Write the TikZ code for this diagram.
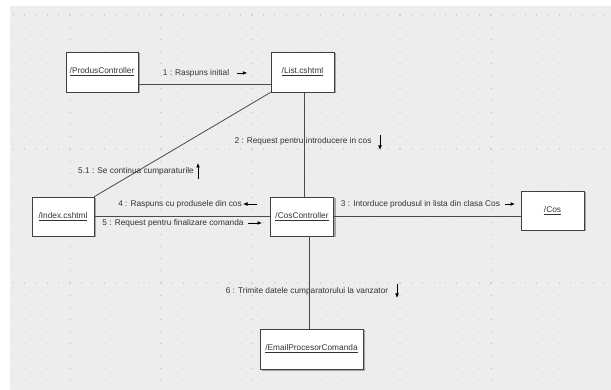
\documentclass[tikz,border=0pt]{standalone}
\usepackage{fontspec}
\setmainfont{Liberation Sans}
\usetikzlibrary{arrows.meta,calc}
\definecolor{bggrey}{HTML}{EDEDED}
\definecolor{dotgrey}{HTML}{D2D2D2}
\definecolor{linegrey}{HTML}{4A4A4A}
\definecolor{txtgrey}{HTML}{333333}
\begin{document}
\begin{tikzpicture}[x=1pt,y=-1pt,
  objbox/.style={draw=black!75,fill=white,line width=0.7pt,minimum width=#1,inner sep=0pt,
    font=\fontsize{8.3}{10}\selectfont,text=txtgrey},
  objbox/.default=63pt,
  conn/.style={draw=linegrey,line width=0.8pt},
  msg/.style={font=\fontsize{8.3}{10}\selectfont,text=txtgrey,inner sep=0pt},
  msgarrow/.style={draw=black,line width=0.7pt,-{Latex[length=4.5pt,width=3.8pt]}},
  shadowbox/.style={fill=black!35}
]
\useasboundingbox (0,0) rectangle (611,390);
\fill[white] (0,0) rectangle (611,390);
\fill[bggrey] (10,6) rectangle (611,390);
\foreach \i in {0,...,52}{
  \foreach \j in {0,...,30}{
    \fill[dotgrey] ({13+11.38*\i-0.5},{15+12.18*\j-0.5}) rectangle ++(1.1,1.1);
  }
}
% shadows
\fill[shadowbox] (67.5,53.5) rectangle (139.5,93.5);
\fill[shadowbox] (272.5,53.5) rectangle (335.5,93.5);
\fill[shadowbox] (33.5,198.5) rectangle (95.5,237.5);
\fill[shadowbox] (272.5,198.5) rectangle (335.5,237.5);
\fill[shadowbox] (522.5,192.5) rectangle (585.5,231.5);
\fill[shadowbox] (261.5,330.5) rectangle (364.5,370.5);
% nodes
\node[objbox=72pt,minimum height=40pt] (pc) at (102,72) {\underline{/ProdusController}};
\node[objbox=63pt,minimum height=40pt] (list) at (302.5,72) {\underline{/List.cshtml}};
\node[objbox=62pt,minimum height=39pt] (idx) at (63,216.5) {\underline{/Index.cshtml}};
\node[objbox=63pt,minimum height=39pt] (cc) at (302,216.5) {\underline{/CosController}};
\node[objbox=63pt,minimum height=39pt] (cos) at (552.5,210.5) {\underline{/Cos}};
\node[objbox=103pt,minimum height=40pt] (email) at (311.5,349) {\underline{/EmailProcesorComanda}};
% connectors
\draw[conn] ([yshift=-12pt]pc.east) -- ([yshift=-12pt]list.west);
\draw[conn] ([xshift=1.5pt]list.south) -- ([xshift=2pt]cc.north);
\draw[conn] (list.south west) -- (idx.north east);
\draw[conn] (idx.east) -- (cc.west);
\draw[conn] (cc.east) -- (cc.east -| cos.west);
\draw[conn] ([xshift=7.5pt]cc.south) -- ([xshift=7.5pt]cc.south |- email.north);
% labels
\node[msg] (l1) at (196,73) {1 : Raspuns initial};
\draw[msgarrow] ([xshift=8pt]l1.east) -- ++(10,0);
\node[msg] (l2) at (303,141) {2 : Request pentru introducere in cos};
\draw[msgarrow] (380,135) -- (380,150);
\node[msg] (l51) at (136,171) {5.1 : Se continua cumparaturile};
\draw[msgarrow] (198,179) -- (198,163);
\node[msg] (l4) at (180,204) {4 : Raspuns cu produsele din cos};
\draw[msgarrow] (257,204) -- (243,204);
\node[msg] (l5) at (173,223) {5 : Request pentru finalizare comanda};
\draw[msgarrow] (248,223) -- (262,223);
\node[msg] (l3) at (420.5,204) {3 : Intorduce produsul in lista din clasa Cos};
\draw[msgarrow] (505,204) -- (515,204);
\node[msg] (l6) at (307,291) {6 : Trimite datele cumparatorului la vanzator};
\draw[msgarrow] (397,284) -- (397,298);
\end{tikzpicture}
\end{document}
